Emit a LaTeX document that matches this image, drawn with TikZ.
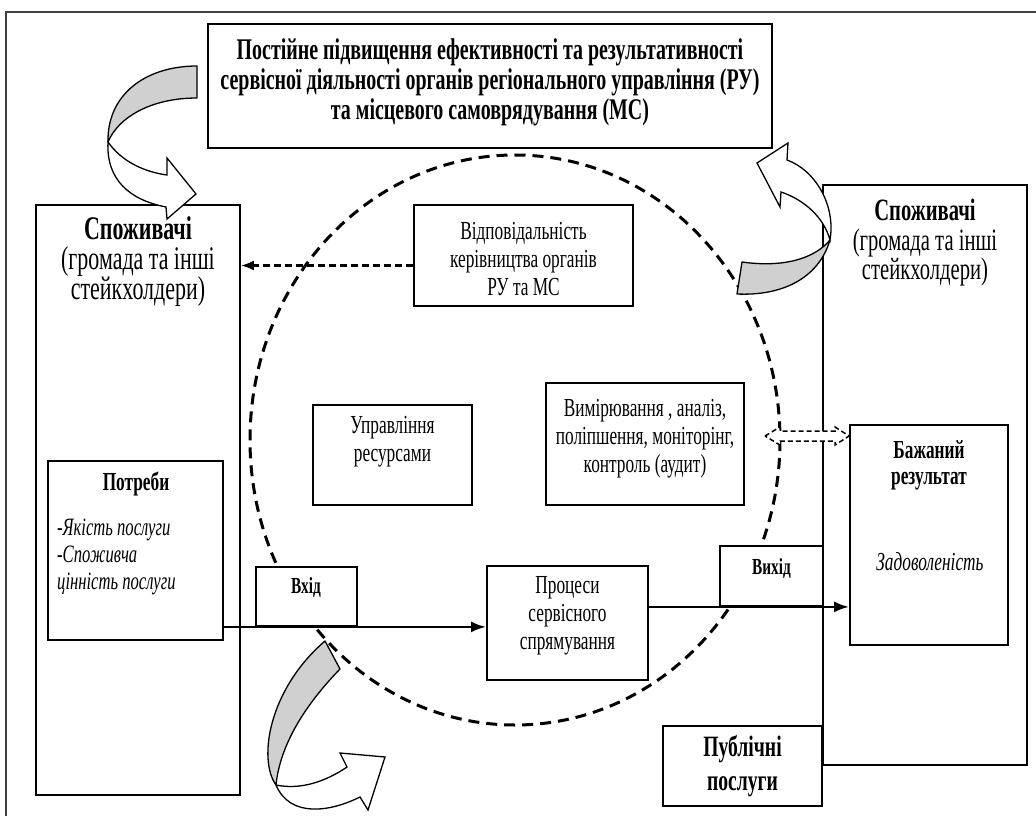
\documentclass[tikz,border=0pt]{standalone}
\usepackage{fontspec}
\setmainfont{Liberation Serif}[FakeStretch=0.665]
\usetikzlibrary{arrows.meta}
\definecolor{bandgray}{HTML}{D0D0D0}
\tikzset{
  box/.style={draw, line width=1.8pt, fill=white, inner sep=0pt},
  lbl/.style={inner sep=0pt, align=center, font=\fontsize{26}{28}\selectfont},
  blbl/.style={inner sep=0pt, align=center, font=\bfseries\fontsize{26}{28}\selectfont},
  solidarr/.style={line width=2.5pt, -{Latex[length=15pt,width=11pt]}},
  dasharr/.style={line width=2.3pt, dash pattern=on 7pt off 4pt, -{Latex[length=13pt,width=10pt]}},
  bandback/.style={draw, line width=1.3pt, fill=bandgray, line join=round},
  bandfront/.style={draw, line width=1.3pt, fill=white, line join=miter},
}
\begin{document}
\begin{tikzpicture}[x=1pt,y=-1pt]
\useasboundingbox (0,0) rectangle (1036,816);
% frame
\draw[line width=1.5pt, black!75] (6,816) -- (6,12) -- (1036,12);
% dashed circle
\draw[line width=3pt, dash pattern=on 11pt off 7pt] (515,440) ellipse [x radius=265, y radius=285];
% consumers
\node[box] (consL) at (138,500) [minimum width=204, minimum height=590] {};
\node[lbl, font=\fontsize{33}{30}\selectfont] (consLt) at (138,262) {\textbf{Споживачі}\\(громада та інші\\стейкхолдери)};
\node[box] (consR) at (925,475) [minimum width=204, minimum height=580] {};
\node[lbl, font=\fontsize{31}{29.5}\selectfont] (consRt) at (925,243) {\textbf{Споживачі}\\(громада та інші\\стейкхолдери)};
% top box
\node[box, line width=2.2pt, minimum width=564, minimum height=124] (top) at (490,86) {};
\node[blbl, font=\bfseries\fontsize{30}{30}\selectfont] (topt) at (490,82) {Постійне підвищення ефективності та результативності\\сервісної діяльності органів регіонального управління (РУ)\\та місцевого самоврядування (МС)};
% responsibility
\node[box, minimum width=219, minimum height=101] (resp) at (523.5,255.5) {};
\node[lbl] (respt) at (523.5,259.5) {Відповідальність\\керівництва органів\\РУ та МС};
% resources
\node[box, minimum width=159, minimum height=100] (res) at (392.5,455) {};
\node[lbl] (rest) at (392.5,442) {Управління\\ресурсами};
% measurement
\node[box, minimum width=198, minimum height=122] (meas) at (645,444) {};
\node[lbl] (meast) at (645,438.5) {Вимірювання , аналіз,\\поліпшення, моніторінг,\\контроль (аудит)};
% needs
\node[box, minimum width=175, minimum height=179] (potr) at (135.5,550.5) {};
\node[blbl] (potrt) at (136,484) {Потреби};
\node[lbl, align=left, anchor=west, font=\itshape\fontsize{25}{27}\selectfont] (potrl) at (57,557) {-Якість послуги\\-Споживча\\цінність послуги};
% input
\node[box, minimum width=101, minimum height=59] (inp) at (306.5,596.5) {};
\node[blbl, font=\bfseries\fontsize{23}{26}\selectfont] (inpt) at (306,588) {Вхід};
% processes
\node[box, minimum width=161, minimum height=114] (proc) at (567.5,623) {};
\node[lbl] (proct) at (567.5,616) {Процеси\\сервісного\\спрямування};
% output
\node[box, minimum width=103, minimum height=60] (outp) at (771.5,576) {};
\node[blbl, font=\bfseries\fontsize{23}{26}\selectfont] (outpt) at (771.5,569) {Вихід};
% desired result
\node[box, minimum width=158, minimum height=220] (des) at (929,535) {};
\node[blbl, font=\bfseries\fontsize{26}{26}\selectfont] (dest) at (929,465) {Бажаний\\результат};
\node[lbl, font=\itshape\fontsize{26}{28}\selectfont] (desl) at (930,562) {Задоволеність};
% public services
\node[box, minimum width=159, minimum height=80] (pub) at (742.5,766) {};
\node[blbl, font=\bfseries\fontsize{29.5}{34}\selectfont] (pubt) at (742.5,766) {Публічні\\послуги};
% arrows
\draw[solidarr] (potr.east |- inp.south) -- (proc.west |- inp.south);
\draw[solidarr] (proc.east |- outp.south) -- (des.west |- outp.south);
\draw[dasharr] ([yshift=-10pt]resp.west) -- ([yshift=-10pt]resp.west -| consL.east);
% double dashed block arrow
\coordinate (dl) at (765,436);
\draw[line width=1.5pt, dash pattern=on 5pt off 3pt, fill=white] (dl) -- (780,427) -- (780,431) -- (835,431) -- (835,427) -- (des.west |- dl) -- (835,445) -- (835,441) -- (780,441) -- (780,445) -- cycle;
% curved arrow top-left
\draw[bandback] (197,66) .. controls (145,66) and (107,95) .. (108,142) .. controls (118,118) and (150,98) .. (197,98) -- cycle;
\draw[bandfront] (108,142) .. controls (122,162) and (145,172) .. (167,175) -- (167,158) -- (196,194) -- (167,219) -- (166,207) .. controls (130,200) and (106,180) .. (108,142) -- cycle;
% curved arrow top-right
\draw[bandback] (742,262) -- (737,294) .. controls (780,296) and (818,280) .. (830,240) .. controls (815,258) and (785,268) .. (742,262) -- cycle;
\draw[bandfront] (830,240) .. controls (836,205) and (815,170) .. (787,160) -- (788,143) -- (757,163) -- (780,207) -- (781,192) .. controls (805,200) and (824,218) .. (830,240) -- cycle;
% curved arrow bottom-left
\draw[bandback] (325,641) -- (340,669) .. controls (305,705) and (280,745) .. (276,785) .. controls (258,760) and (268,690) .. (325,641) -- cycle;
\draw[bandfront] (276,785) .. controls (300,790) and (325,782) .. (347,767) -- (340,753) -- (385,757) -- (368,810) -- (360,797) .. controls (330,812) and (290,818) .. (276,785) -- cycle;
\end{tikzpicture}
\end{document}
